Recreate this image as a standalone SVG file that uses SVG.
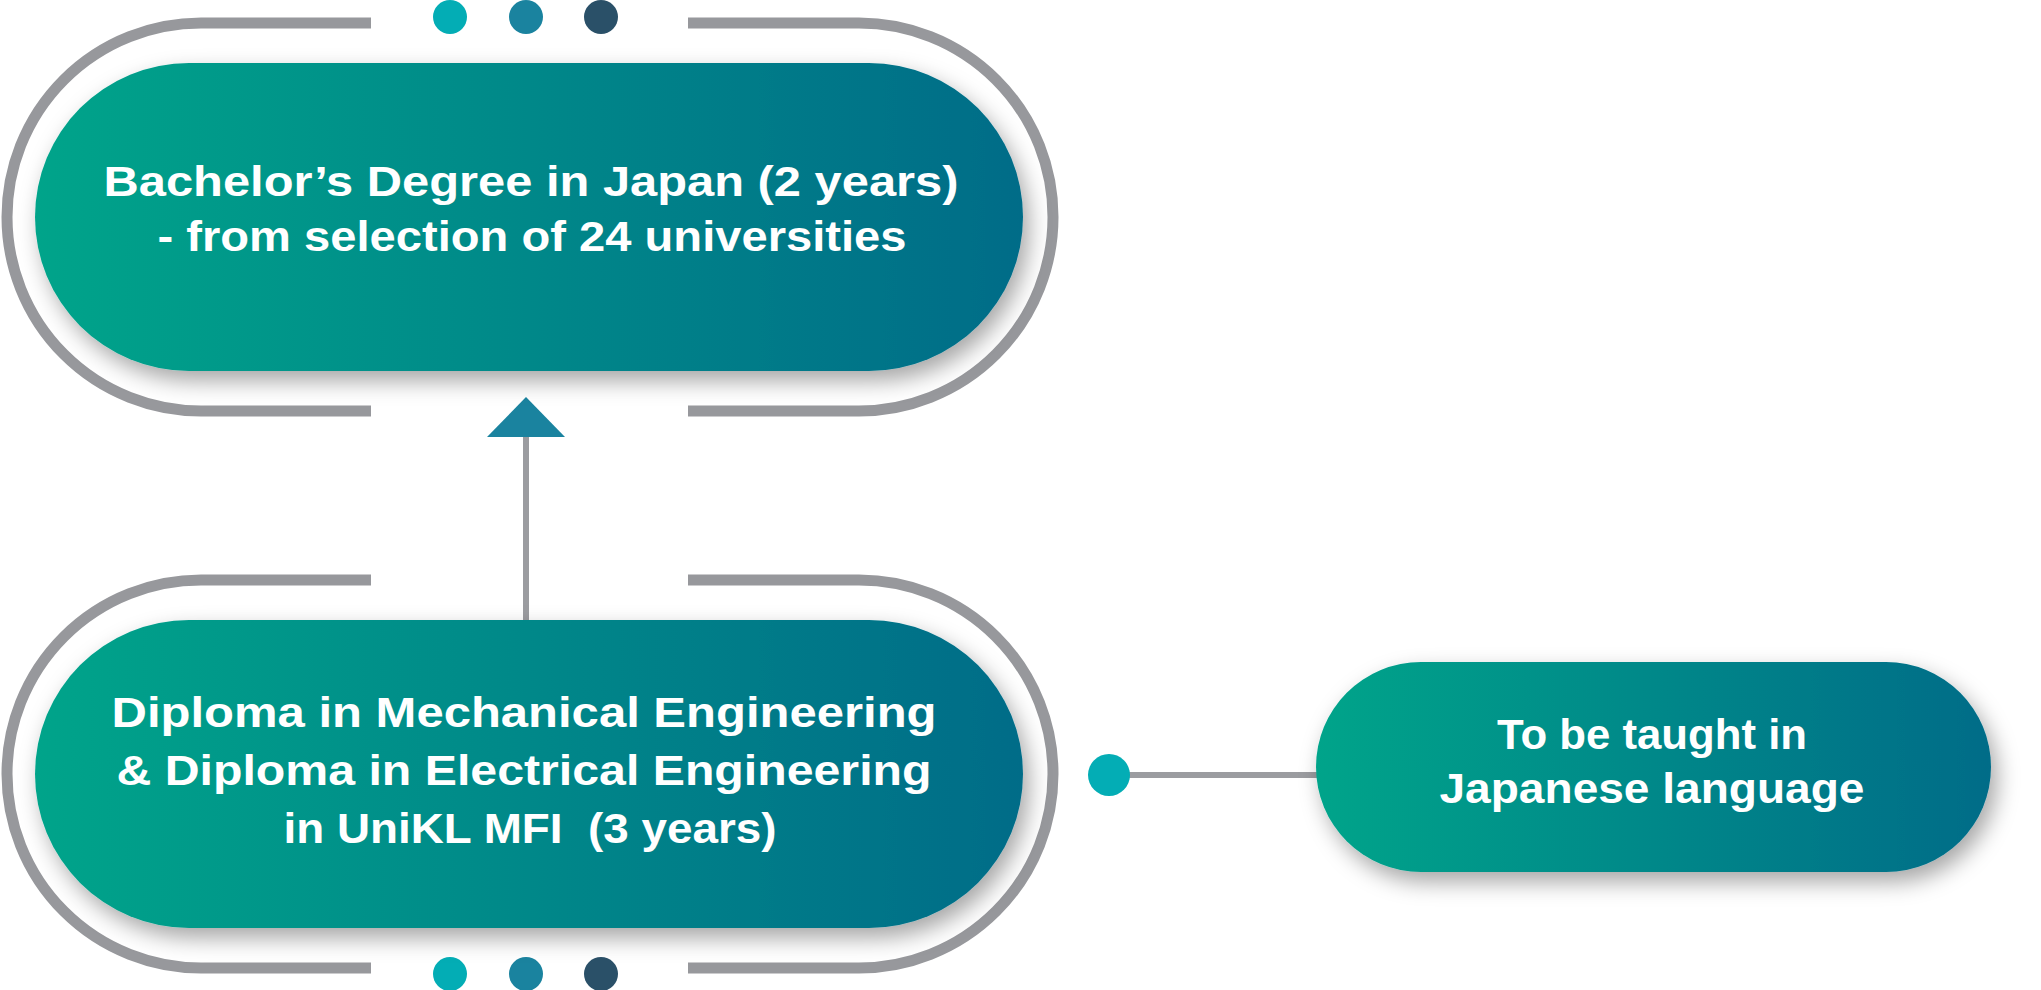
<svg xmlns="http://www.w3.org/2000/svg" width="2041" height="990" viewBox="0 0 2041 990">
  <defs>
    <linearGradient id="pillGrad" x1="0" y1="0" x2="1" y2="0">
      <stop offset="0" stop-color="#04A48A"/>
      <stop offset="1" stop-color="#046C88"/>
    </linearGradient>
    <filter id="shadow" x="-10%" y="-20%" width="125%" height="150%">
      <feDropShadow dx="6" dy="10" stdDeviation="11" flood-color="#000" flood-opacity="0.35"/>
    </filter>
  </defs>
  <style>
    .frame { fill: none; stroke: #97989C; stroke-width: 11; }
    .pill { fill: url(#pillGrad); filter: url(#shadow); }
    .label { font-family: "Liberation Sans", Arial, sans-serif; font-weight: bold; font-size: 43px; fill: #FFFFFF; text-anchor: middle; }
    .conn { stroke: #9B9CA0; stroke-width: 6; fill: none; }
    .d1 { fill: #03ADB5; }
    .d2 { fill: #1A839F; }
    .d3 { fill: #2A5068; }
  </style>
  <rect width="2041" height="990" fill="#FFFFFF"/>

  <g id="connectors">
    <line class="conn" x1="526" y1="436" x2="526" y2="622"/>
    <polygon points="526,397 487,437 565,437" fill="#1A839F"/>
    <line class="conn" x1="1128" y1="775" x2="1320" y2="775"/>
    <circle class="d1" cx="1109" cy="775" r="21"/>
  </g>

  <g id="node-bachelor">
    <path class="frame" d="M371,23 H201 A194,194 0 0 0 201,411 H371"/>
    <path class="frame" d="M688,23 H859 A194,194 0 0 1 859,411 H688"/>
    <circle class="d1" cx="450" cy="17" r="17"/>
    <circle class="d2" cx="526" cy="17" r="17"/>
    <circle class="d3" cx="601" cy="17" r="17"/>
    <rect class="pill" x="35" y="63" width="988" height="308" rx="154" ry="154"/>
    <text class="label" x="531" y="196" textLength="855" lengthAdjust="spacingAndGlyphs">Bachelor’s Degree in Japan (2 years)</text>
    <text class="label" x="532" y="251" textLength="749" lengthAdjust="spacingAndGlyphs">- from selection of 24 universities</text>
  </g>

  <g id="node-diploma">
    <path class="frame" d="M371,580 H201 A194,194 0 0 0 201,968 H371"/>
    <path class="frame" d="M688,580 H859 A194,194 0 0 1 859,968 H688"/>
    <circle class="d1" cx="450" cy="974" r="17"/>
    <circle class="d2" cx="526" cy="974" r="17"/>
    <circle class="d3" cx="601" cy="974" r="17"/>
    <rect class="pill" x="35" y="620" width="988" height="308" rx="154" ry="154"/>
    <text class="label" x="524" y="727" textLength="825" lengthAdjust="spacingAndGlyphs">Diploma in Mechanical Engineering</text>
    <text class="label" x="524" y="785" textLength="815" lengthAdjust="spacingAndGlyphs">&amp; Diploma in Electrical Engineering</text>
    <text class="label" x="530" y="843" textLength="493" lengthAdjust="spacingAndGlyphs" xml:space="preserve">in UniKL MFI  (3 years)</text>
  </g>

  <g id="node-japanese">
    <rect class="pill" x="1316" y="662" width="675" height="210" rx="105" ry="105"/>
    <text class="label" x="1652" y="749" textLength="310" lengthAdjust="spacingAndGlyphs">To be taught in</text>
    <text class="label" x="1652" y="803" textLength="425" lengthAdjust="spacingAndGlyphs">Japanese language</text>
  </g>
</svg>
